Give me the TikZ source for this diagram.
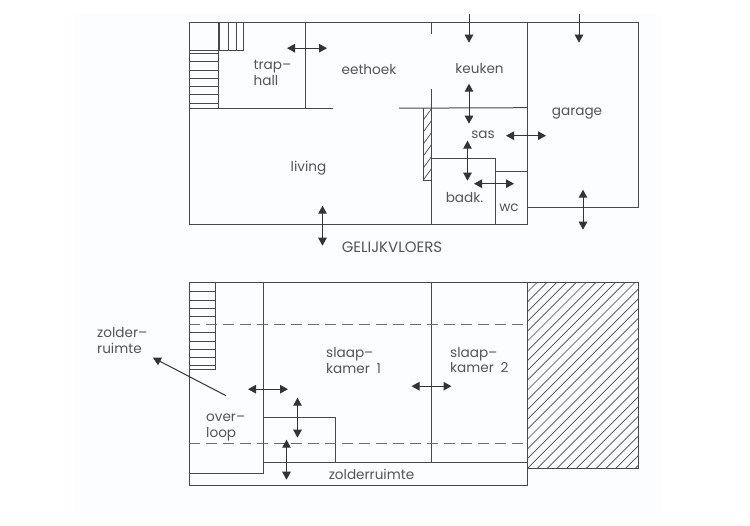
\documentclass[tikz,border=0pt]{standalone}
\usepackage{fontspec}
\setmainfont{Poppins}
\usetikzlibrary{arrows.meta}
\definecolor{wallcol}{HTML}{484848}
\definecolor{arrowcol}{HTML}{333338}
\definecolor{textcol}{HTML}{555555}
\definecolor{paper}{HTML}{FCFDFE}
\tikzset{
  wall/.style={draw=wallcol,line width=1pt},
  thin wall/.style={draw=wallcol,line width=.7pt},
  door/.style={draw=arrowcol,line width=1pt,{Triangle[length=8pt,width=8.5pt]}-{Triangle[length=8pt,width=8.5pt]}},
  entry/.style={draw=arrowcol,line width=1pt,-{Triangle[length=8pt,width=8.5pt]}},
  hidden wall/.style={draw=wallcol!80,line width=1pt,dash pattern=on 11pt off 6pt},
  room/.style={text=textcol,font=\fontsize{13.6}{13.6}\selectfont,inner sep=0pt,anchor=base},
  room left/.style={room,anchor=base west},
}
\begin{document}
\begin{tikzpicture}[x=1pt,y=-1pt]
\useasboundingbox (0,-.7) rectangle (750,525.3);
\fill[paper] (75,13) rectangle (662,512);
% gelijkvloers
\draw[wall] (527,22) -- (189,22) -- (189,224) -- (527,224);
\draw[wall] (527,22) -- (638,22) -- (638,207) -- (527,207);
\draw[wall] (527,22) -- (527,224);
\draw[wall] (189,108) -- (333,108);
\draw[wall] (218,22) -- (218,108);
\draw[wall] (305,22) -- (305,108);
\draw[wall] (399,107.5) -- (527,107);
\draw[wall] (431.5,22) -- (431.5,33);
\draw[wall] (431.5,88) -- (431.5,224);
\draw[wall] (431.5,158) -- (495,158) -- (495,224);
\draw[wall] (495,171) -- (527,171);
% trappen
\foreach \y in {49.5,53,61,69.5,77.5,85.5,94,102.5} \draw[thin wall] (189,\y) -- (218,\y);
\foreach \x in {219.5,228,236,243.5} \draw[thin wall] (\x,22) -- (\x,49.5);
\draw[thin wall] (218,49.5) -- (243.5,49.5);
% gearceerd
\draw[thin wall] (423.5,107.5) -- (423.5,180) -- (431.5,180);
\foreach \y in {119,131,143,155,167,179} \draw[thin wall] (423.5,\y) -- (431.5,\y-11);
% deuren
\draw[door] (287,47.5) -- (327,47.5);
\draw[door] (469,83) -- (469,123);
\draw[door] (506,135) -- (546,135);
\draw[door] (467.5,140) -- (467.5,180);
\draw[door] (474,183) -- (514,183);
\draw[door] (583,189) -- (583,229);
\draw[door] (322.5,205) -- (322.5,245);
\draw[entry] (469,13) -- (469,42);
\draw[entry] (579,13) -- (579,42);
\draw (253.5,68.5) node[room left] {trap--};
\draw (253.5,84.5) node[room left] {hall};
\draw (369,73.5) node[room] {eethoek};
\draw (308.5,171) node[room] {living};
\draw (479.5,73) node[room] {keuken};
\draw (577,115) node[room] {garage};
\draw (483,137.5) node[room] {sas};
\draw (464.5,202) node[room] {badk.};
\draw (509,210.5) node[room] {wc};
\draw (392,251.5) node[room,font=\fontsize{15}{15}\selectfont] {GELIJKVLOERS};
% verdieping
\begin{scope}
\clip (527,282) rectangle (638,468);
\foreach \x in {0,...,31} \draw[thin wall] (527+\x*9.8,282) -- ++(-190,190);
\end{scope}
\draw[wall] (527,282) rectangle (638,468);
\draw[wall] (527,282) -- (189,282) -- (189,485) -- (527,485) -- (527,461.5);
\draw[wall] (263.5,282) -- (263.5,473) -- (189,473);
\draw[wall] (431.5,282) -- (431.5,461.5);
\draw[wall] (263.5,461.5) -- (527,461.5);
\draw[wall] (263.5,417) -- (335.5,417) -- (335.5,461.5);
\foreach \y in {291,299.5,307.5,316,332,340.5,348.5,356.5,364.5,369} \draw[thin wall] (189,\y) -- (215.5,\y);
\draw[wall] (215.5,282) -- (215.5,369);
\draw[hidden wall] (189,323.5) -- (527,323.5);
\draw[hidden wall] (189,443) -- (527,443);
\draw[door] (248,388.5) -- (288,388.5);
\draw[door] (297.5,397) -- (297.5,437);
\draw[door] (286.5,439) -- (286.5,479);
\draw[door] (411.5,385.5) -- (451.5,385.5);
\draw[entry] (226,395) -- (153,357);
\draw (97,337) node[room left] {zolder--};
\draw (97,353) node[room left] {ruimte};
\draw (206,421) node[room left] {over--};
\draw (206,437) node[room left] {loop};
\draw (326,357) node[room left] {slaap--};
\draw (326,372.5) node[room left] {kamer\enspace 1};
\draw (450,356.5) node[room left] {slaap--};
\draw (450,372) node[room left] {kamer\enspace 2};
\draw (371.5,478.5) node[room] {zolderruimte};
\end{tikzpicture}
\end{document}
